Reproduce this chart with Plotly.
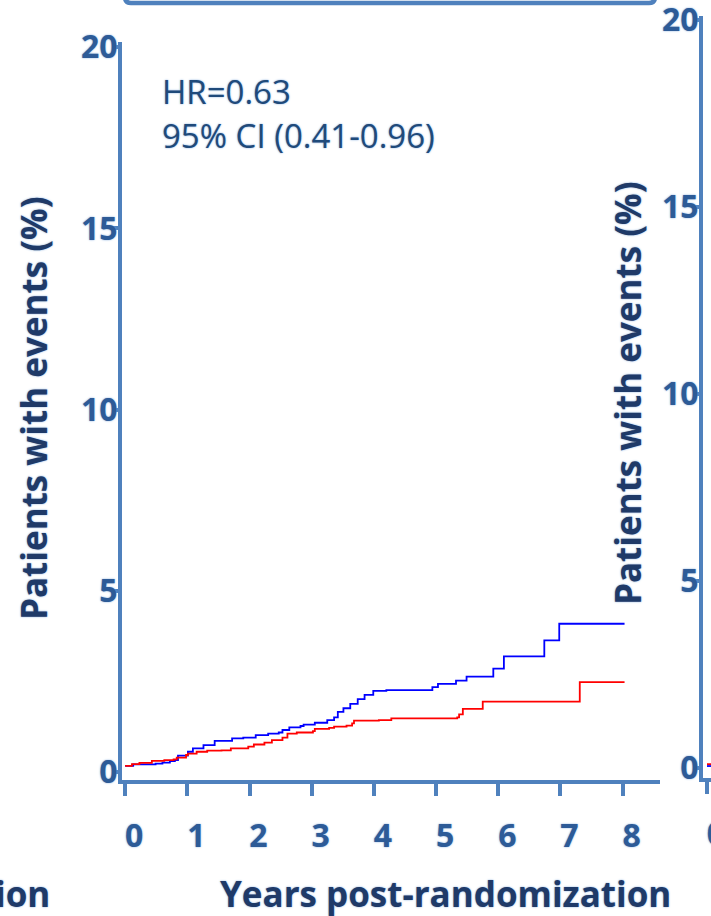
import plotly.graph_objects as go

# Cumulative incidence (Kaplan-Meier style step curves), % of patients with events
blue_years = [0.0, 0.13, 0.49, 0.60, 0.72, 0.80, 0.85, 1.01, 1.09, 1.26, 1.44, 1.72, 1.90,
              2.10, 2.30, 2.47, 2.53, 2.64, 2.82, 2.87, 3.05, 3.25, 3.36, 3.42, 3.51,
              3.62, 3.74, 3.85, 3.99, 4.20, 4.94, 5.03, 5.32, 5.49, 5.92, 6.09, 6.74,
              6.98, 8.03]
blue_pct = [0.17, 0.21, 0.23, 0.26, 0.30, 0.33, 0.45, 0.56, 0.65, 0.74, 0.86, 0.93, 0.95,
            1.02, 1.06, 1.09, 1.16, 1.23, 1.27, 1.31, 1.36, 1.43, 1.51, 1.66, 1.76,
            1.88, 2.01, 2.13, 2.24, 2.26, 2.34, 2.43, 2.52, 2.63, 2.85, 3.19, 3.63,
            4.09, 4.09]

red_years = [0.0, 0.11, 0.23, 0.43, 0.63, 0.78, 0.83, 0.98, 1.01, 1.15, 1.32, 1.55, 1.70,
             1.98, 2.07, 2.24, 2.36, 2.53, 2.61, 2.76, 3.02, 3.05, 3.28, 3.36, 3.56,
             3.65, 3.68, 4.08, 4.28, 5.34, 5.37, 5.43, 5.75, 7.31, 8.03]
red_pct = [0.17, 0.22, 0.25, 0.31, 0.33, 0.35, 0.40, 0.47, 0.51, 0.56, 0.59, 0.60, 0.65,
           0.70, 0.76, 0.81, 0.88, 0.95, 1.06, 1.09, 1.13, 1.19, 1.22, 1.25, 1.28,
           1.34, 1.42, 1.43, 1.48, 1.51, 1.59, 1.74, 1.94, 2.48, 2.48]

# start of the neighbouring panel's curves
side_years = [0.0, 0.08]
side_blue_pct = [0.05, 0.05]
side_red_pct = [0.1, 0.1]

x_ticks = [0, 1, 2, 3, 4, 5, 6, 7, 8]
y_ticks = [0, 5, 10, 15, 20]

y_title = "Patients with events (%)"
x_title = "Years post-randomization"
hr_lines = ["HR=0.63", "95% CI (0.41-0.96)"]

AXIS = "#4F81BD"
TICK_TXT = "#2D5B97"
TITLE_TXT = "#1F3A68"
GLOW = "0px 0px 2px #7FA8DA"
FONT = "Open Sans"

W, H = 711, 916


def px(v):
    return v / W


def py(v):
    return 1 - v / H


fig = go.Figure()
fig.add_trace(go.Scatter(x=blue_years, y=blue_pct, mode="lines", line_shape="hv",
                         line=dict(color="#0000FF", width=1.8), xaxis="x", yaxis="y"))
fig.add_trace(go.Scatter(x=red_years, y=red_pct, mode="lines", line_shape="hv",
                         line=dict(color="#FF0000", width=1.8), xaxis="x", yaxis="y"))
fig.add_trace(go.Scatter(x=side_years, y=side_blue_pct, mode="lines", line_shape="hv",
                         line=dict(color="#0000FF", width=1.8), xaxis="x2", yaxis="y2"))
fig.add_trace(go.Scatter(x=side_years, y=side_red_pct, mode="lines", line_shape="hv",
                         line=dict(color="#FF0000", width=1.8), xaxis="x2", yaxis="y2"))

tickfont = dict(family=FONT, size=32, color=TICK_TXT, weight=700, shadow=GLOW)
common = dict(showline=True, linecolor=AXIS, linewidth=4, showgrid=False, zeroline=False,
              ticks="outside", tickcolor=AXIS, tickwidth=3.5, tickfont=tickfont,
              fixedrange=True, automargin=False, ticklabeloverflow="allow")

fig.update_layout(
    width=W, height=H,
    margin=dict(l=0, r=0, t=0, b=0, autoexpand=False),
    paper_bgcolor="white", plot_bgcolor="white",
    showlegend=False,
    xaxis=dict(domain=[px(122), px(660)], range=[-0.05, 8.6], tickvals=x_ticks,
               ticklen=12, ticklabelstandoff=13, ticklabelshift=9, anchor="y", **common),
    yaxis=dict(domain=[py(780), py(42)], range=[-0.22, 20.14], tickvals=y_ticks,
               ticklen=5, ticklabelstandoff=-11, anchor="x", **common),
    xaxis2=dict(domain=[px(703), 1.0], range=[-0.065, 0.065], tickvals=[0],
                ticklen=12, ticklabelstandoff=13, ticklabelshift=9, anchor="y2", **common),
    yaxis2=dict(domain=[py(778), py(16)], range=[-0.27, 20.1], tickvals=y_ticks,
                ticklen=5, ticklabelstandoff=-11, anchor="x2", **common),
)

title_font = dict(family=FONT, size=35, color=TITLE_TXT, weight=700, shadow=GLOW)
hr_font = dict(family=FONT, size=33, color="#1F4A7A", shadow=GLOW)
annotations = [
    dict(text=y_title, x=px(34), y=py(408), textangle=-90, font=title_font),
    dict(text=y_title, x=px(627), y=py(393), textangle=-90, font=title_font),
    dict(text=x_title, x=px(445), y=py(893), font=title_font),
    dict(text=x_title, x=px(52), y=py(893), xanchor="right", font=title_font),
    dict(text=hr_lines[0], x=px(160), y=py(91), xanchor="left", font=hr_font),
    dict(text=hr_lines[1], x=px(160), y=py(135), xanchor="left", font=hr_font),
]
for a in annotations:
    a.setdefault("xanchor", "center")
    a.update(xref="paper", yref="paper", yanchor="middle", showarrow=False)
fig.update_layout(annotations=annotations)

# lower edge of the rounded header box above the panel
fig.add_shape(type="path", xref="paper", yref="paper",
              path=(f"M {px(125)},{py(-30)} L {px(125)},{py(-3)} "
                    f"Q {px(125)},{py(3)} {px(131)},{py(3)} L {px(649)},{py(3)} "
                    f"Q {px(655)},{py(3)} {px(655)},{py(-3)} L {px(655)},{py(-30)}"),
              line=dict(color=AXIS, width=4.5))

fig.write_html("out.html")
